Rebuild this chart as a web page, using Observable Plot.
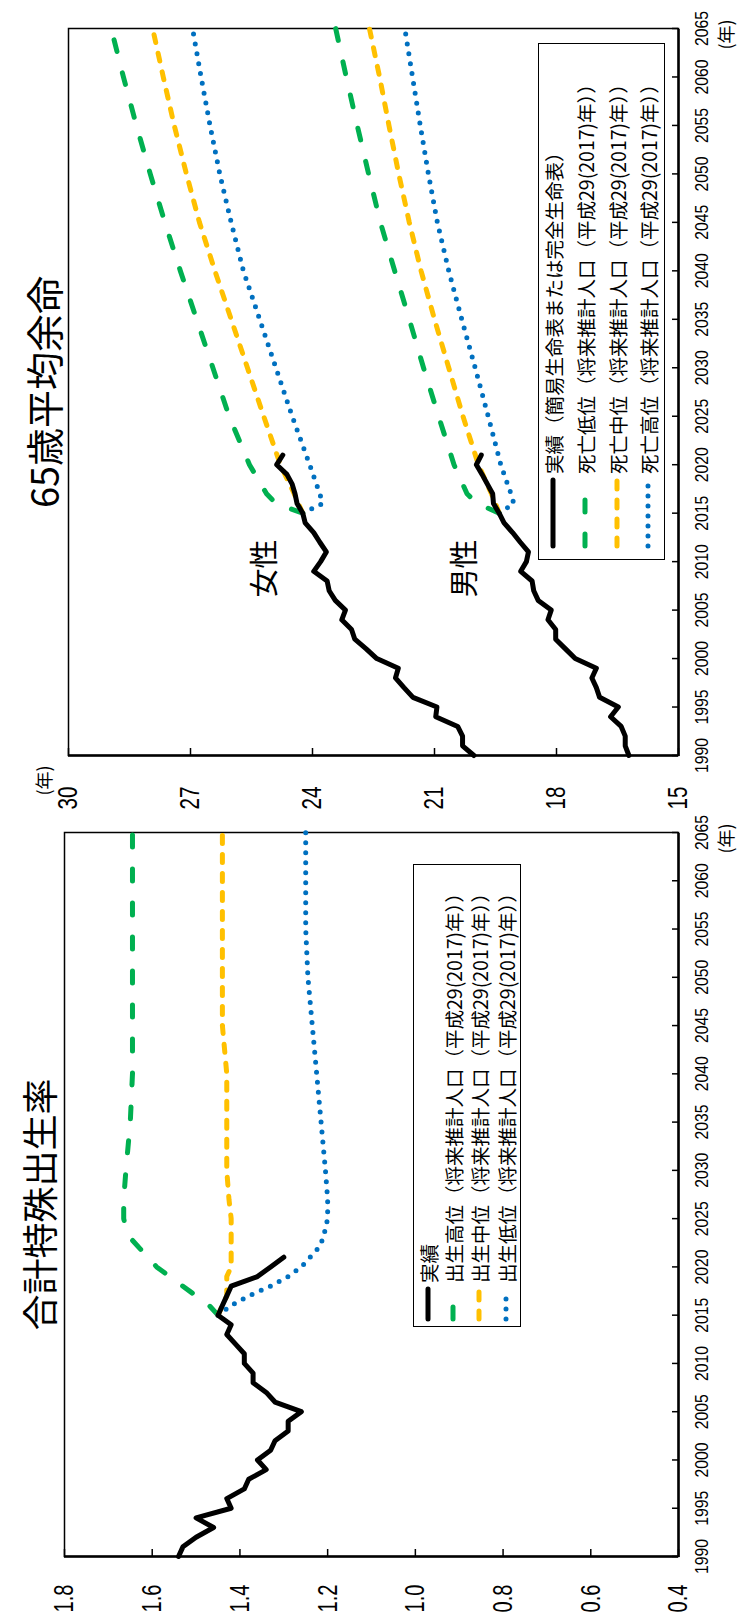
<!DOCTYPE html>
<html><head><meta charset="utf-8">
<script src="https://cdn.jsdelivr.net/npm/d3@7"></script>
<script src="https://cdn.jsdelivr.net/npm/@observablehq/plot@0.6"></script>
<style>
html,body{margin:0;padding:0;background:#fff;width:744px;height:1619px;overflow:hidden;}
#page{position:absolute;left:0;top:0;width:1619px;height:744px;transform-origin:0 0;transform:translate(0px,1619px) rotate(-90deg);background:#fff;}
.panel{position:absolute;top:0;}
.legend{position:absolute;border:1.5px solid #000;background:#fff;font-family:'Noto Sans CJK JP',sans-serif;font-size:19.5px;color:#000;box-sizing:border-box;}
.legend .row{position:absolute;height:24px;display:flex;align-items:center;white-space:nowrap;}
.legend .row svg{display:block;}
</style>
</head><body>
<div id="page"></div>
<script>
// ---------------- data ----------------
const yearTicks = [1990,1995,2000,2005,2010,2015,2020,2025,2030,2035,2040,2045,2050,2055,2060,2065];
const tfrTicks = [0.4,0.6,0.8,1.0,1.2,1.4,1.6,1.8];
const leTicks = [15,18,21,24,27,30];

const actualYears = [1990,1991,1992,1993,1994,1995,1996,1997,1998,1999,2000,2001,2002,2003,2004,2005,2006,2007,2008,2009,2010,2011,2012,2013,2014,2015,2016,2017,2018,2019,2020,2021];
const tfrActual = [1.54,1.53,1.50,1.46,1.50,1.42,1.43,1.39,1.38,1.34,1.36,1.33,1.32,1.29,1.29,1.26,1.32,1.34,1.37,1.37,1.39,1.39,1.41,1.43,1.42,1.45,1.44,1.43,1.42,1.36,1.33,1.30];

const tfrProjYears = [2015,2016,2017,2018,2019,2020,2021,2022,2023,2024,2025,2027,2030,2035,2040,2045,2050,2055,2060,2065];
const tfrHigh = [1.45,1.47,1.50,1.53,1.56,1.59,1.61,1.63,1.65,1.66,1.665,1.665,1.66,1.65,1.645,1.645,1.645,1.645,1.645,1.645];
const tfrMid  = [1.45,1.44,1.43,1.43,1.43,1.42,1.42,1.42,1.42,1.42,1.42,1.425,1.43,1.43,1.43,1.44,1.44,1.44,1.44,1.44];
const tfrLow  = [1.45,1.42,1.38,1.33,1.29,1.26,1.24,1.22,1.21,1.205,1.20,1.20,1.205,1.215,1.225,1.235,1.245,1.25,1.25,1.25];

const leMaleActual   = [16.22,16.31,16.31,16.41,16.67,16.48,16.94,17.02,17.13,17.02,17.54,17.78,18.02,18.02,18.21,18.13,18.45,18.56,18.60,18.88,18.74,18.69,18.89,19.08,19.29,19.41,19.55,19.57,19.70,19.83,19.97,19.85];
const leFemaleActual = [20.03,20.31,20.31,20.43,20.97,20.94,21.53,21.75,21.96,21.89,22.42,22.68,22.96,23.04,23.28,23.19,23.44,23.59,23.64,23.97,23.80,23.66,23.82,23.97,24.18,24.24,24.38,24.43,24.50,24.63,24.88,24.73];

const leProjYears = [2015,2016,2017,2020,2025,2030,2035,2040,2045,2050,2055,2060,2065];
const femaleLowMort  = [24.24,24.90,25.13,25.55,26.05,26.45,26.85,27.25,27.63,27.99,28.33,28.65,28.95];
const femaleMidMort  = [24.24,24.35,24.45,24.79,25.20,25.60,26.00,26.40,26.78,27.10,27.40,27.67,27.93];
const femaleHighMort = [24.24,23.75,23.82,24.07,24.50,24.90,25.30,25.70,26.00,26.28,26.52,26.74,26.95];
const maleLowMort    = [19.41,19.95,20.20,20.52,20.90,21.27,21.62,21.98,22.33,22.62,22.90,23.17,23.43];
const maleMidMort    = [19.41,19.50,19.60,19.92,20.30,20.65,21.00,21.33,21.62,21.88,22.12,22.35,22.60];
const maleHighMort   = [19.41,19.05,19.12,19.37,19.68,20.00,20.33,20.65,20.93,21.15,21.35,21.54,21.73];

const sexLabels = [{t:"女性", year:2009.3, v:25.16},{t:"男性", year:2009.3, v:20.24}];

const tfrLegend = ["実績","出生高位（将来推計人口（平成29(2017)年））","出生中位（将来推計人口（平成29(2017)年））","出生低位（将来推計人口（平成29(2017)年））"];
const leLegend = ["実績（簡易生命表または完全生命表）","死亡低位（将来推計人口（平成29(2017)年））","死亡中位（将来推計人口（平成29(2017)年））","死亡高位（将来推計人口（平成29(2017)年））"];

// ---------------- styles ----------------
const GREEN="#00B050", YELLOW="#FFC000", BLUE="#0070C0";
const sty = {
  actual:{stroke:"#000", strokeWidth:5, strokeDasharray:null, strokeLinecap:"round"},
  green:{stroke:GREEN, strokeWidth:5, strokeDasharray:"12,22", strokeLinecap:"round"},
  yellow:{stroke:YELLOW, strokeWidth:5, strokeDasharray:"8,11", strokeLinecap:"round"},
  blue:{stroke:BLUE, strokeWidth:5, strokeDasharray:"0,10", strokeLinecap:"round"}
};
const zip = (xs, ys) => xs.map((x,i)=>({year:x, v:ys[i]}));
const lineMark = (data, s) => Plot.line(data, {x:"year", y:"v", stroke:s.stroke, strokeWidth:s.strokeWidth, strokeDasharray:s.strokeDasharray||undefined, strokeLinecap:s.strokeLinecap, strokeLinejoin:"round"});

const FONT = "'Liberation Sans','Noto Sans CJK JP',sans-serif";
const JP = "'Noto Sans CJK JP',sans-serif";

function squeeze(svg, label, len){
  svg.querySelectorAll(`[aria-label="${label}"] text`).forEach(t=>{
    t.setAttribute("textLength", len);
    t.setAttribute("lengthAdjust","spacingAndGlyphs");
  });
}

const page = document.getElementById("page");

// ---------------- left panel: 合計特殊出生率 ----------------
{
  const W=830, H=744, mL=62, mR=44, mT=64, mB=66;
  const fw=W-mL-mR, fh=H-mT-mB;
  const svg = Plot.plot({
    width:W, height:H, marginLeft:mL, marginRight:mR, marginTop:mT, marginBottom:mB,
    x:{domain:[1990,2065], label:null}, y:{domain:[0.4,1.8], label:null},
    style:{fontFamily:FONT, color:"#000", background:"none", overflow:"visible"},
    marks:[
      Plot.frame({stroke:"#000", strokeWidth:1.5}),
      Plot.tickX(yearTicks, {x:d=>d, insetTop:fh-6, stroke:"#000", strokeWidth:1.5}),
      Plot.tickY(tfrTicks, {y:d=>d, insetRight:fw-8, stroke:"#000", strokeWidth:1.5}),
      Plot.ruleX([1990], {x:d=>d, stroke:"#000", strokeWidth:2.5}),
      Plot.ruleY([0.4], {y:d=>d, stroke:"#000", strokeWidth:2.5}),
      Plot.axisX(yearTicks, {tickSize:0, tickPadding:17, tickFormat:d=>String(d), fontSize:18, label:null}),
      Plot.axisY(tfrTicks, {tickSize:0, tickPadding:28, tickFormat:d=>d.toFixed(1), fontSize:28, label:null}),
      lineMark(zip(tfrProjYears, tfrHigh), sty.green),
      lineMark(zip(tfrProjYears, tfrMid), sty.yellow),
      lineMark(zip(tfrProjYears, tfrLow), sty.blue),
      lineMark(zip(actualYears, tfrActual), sty.actual),
      Plot.text(["(年)"], {x:()=>2065, frameAnchor:"bottom", dy:54, dx:-6, fontSize:18, fontFamily:JP, text:d=>d}),
      Plot.text(["合計特殊出生率"], {frameAnchor:"top", dx:-10, dy:-36, fontSize:36, fontFamily:JP, text:d=>d})
    ]
  });
  squeeze(svg, "x-axis tick label", 35);
  squeeze(svg, "y-axis tick label", 28);
  svg.classList.add("panel");
  svg.style.left="0px";
  page.appendChild(svg);
}

// ---------------- right panel: 65歳平均余命 ----------------
{
  const W=819, H=744, mL=63, mR=29, mT=68, mB=66;
  const fw=W-mL-mR, fh=H-mT-mB;
  const svg = Plot.plot({
    width:W, height:H, marginLeft:mL, marginRight:mR, marginTop:mT, marginBottom:mB,
    x:{domain:[1990,2065], label:null}, y:{domain:[15,30], label:null},
    style:{fontFamily:FONT, color:"#000", background:"none", overflow:"visible"},
    marks:[
      Plot.frame({stroke:"#000", strokeWidth:1.5}),
      Plot.tickX(yearTicks, {x:d=>d, insetTop:fh-6, stroke:"#000", strokeWidth:1.5}),
      Plot.tickY(leTicks, {y:d=>d, insetRight:fw-8, stroke:"#000", strokeWidth:1.5}),
      Plot.ruleX([1990], {x:d=>d, stroke:"#000", strokeWidth:2.5}),
      Plot.ruleY([15], {y:d=>d, stroke:"#000", strokeWidth:2.5}),
      Plot.axisX(yearTicks, {tickSize:0, tickPadding:17, tickFormat:d=>String(d), fontSize:18, label:null}),
      Plot.axisY(leTicks, {tickSize:0, tickPadding:31, tickFormat:d=>String(d), fontSize:28, label:null}),
      lineMark(zip(leProjYears, femaleLowMort), sty.green),
      lineMark(zip(leProjYears, femaleMidMort), sty.yellow),
      lineMark(zip(leProjYears, femaleHighMort), sty.blue),
      lineMark(zip(leProjYears, maleLowMort), sty.green),
      lineMark(zip(leProjYears, maleMidMort), sty.yellow),
      lineMark(zip(leProjYears, maleHighMort), sty.blue),
      lineMark(zip(actualYears, leFemaleActual), sty.actual),
      lineMark(zip(actualYears, leMaleActual), sty.actual),
      Plot.text(sexLabels, {x:"year", y:"v", text:"t", fontSize:29, fontFamily:JP}),
      Plot.text(["(年)"], {x:()=>2065, frameAnchor:"bottom", dy:54, dx:-6, fontSize:18, fontFamily:JP, text:d=>d}),
      Plot.text(["(年)"], {frameAnchor:"top-left", textAnchor:"middle", dx:-25, dy:-30, fontSize:18, fontFamily:JP, text:d=>d}),
      Plot.text(["65歳平均余命"], {frameAnchor:"top", dy:-36, fontSize:38, fontFamily:JP, text:d=>d})
    ]
  });
  squeeze(svg, "x-axis tick label", 35);
  squeeze(svg, "y-axis tick label", 23);
  svg.classList.add("panel");
  svg.style.left="800px";
  page.appendChild(svg);
}

// ---------------- legends ----------------
function sample(s, len){
  const dash = s.strokeDasharray ? `stroke-dasharray="${s.strokeDasharray}"` : "";
  return `<svg width="${len}" height="10"><line x1="3" y1="5" x2="${len-3}" y2="5" stroke="${s.stroke}" stroke-width="${s.strokeWidth}" stroke-linecap="${s.strokeLinecap}" ${dash}/></svg>`;
}
function legend(box, labels, styles, rowTops, symLen, textGap){
  const div = document.createElement("div");
  div.className="legend";
  Object.assign(div.style, {left:box.left+"px", top:box.top+"px", width:box.width+"px", height:box.height+"px"});
  labels.forEach((lab,i)=>{
    const r = document.createElement("div");
    r.className="row";
    r.style.left = box.symLeft+"px";
    r.style.top = rowTops[i]+"px";
    r.innerHTML = sample(styles[i], symLen) + `<span style="margin-left:${textGap}px">${lab}</span>`;
    div.appendChild(r);
  });
  page.appendChild(div);
}
const lineStyles = [sty.actual, sty.green, sty.yellow, sty.blue];
legend({left:292, top:413, width:463, height:108, symLeft:4}, tfrLegend, lineStyles, [2,27,53,80], 36, 3);
legend({left:1059, top:538, width:517, height:127, symLeft:10}, leLegend, lineStyles, [2,34,66,97], 72, 3);
</script>
</body></html>
